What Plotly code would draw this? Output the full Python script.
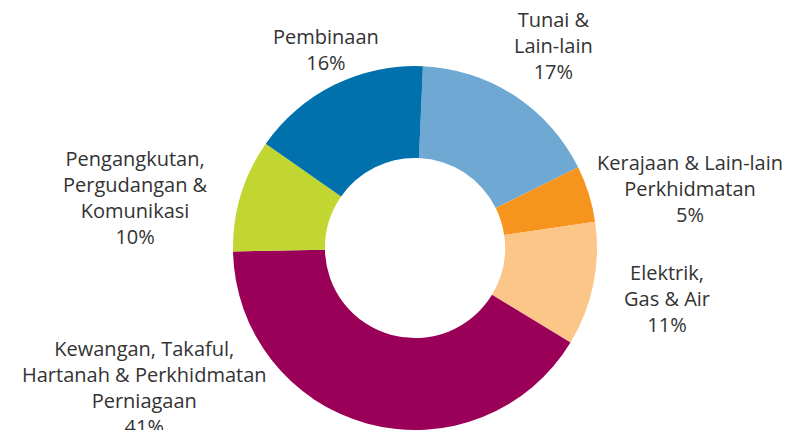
import plotly.graph_objects as go

sectors = ["Tunai & Lain-lain", "Kerajaan & Lain-lain Perkhidmatan", "Elektrik, Gas & Air",
           "Kewangan, Takaful, Hartanah & Perkhidmatan Perniagaan",
           "Pengangkutan, Pergudangan & Komunikasi", "Pembinaan"]
label_lines = ["Tunai &<br>Lain-lain", "Kerajaan & Lain-lain<br>Perkhidmatan", "Elektrik,<br>Gas & Air",
               "Kewangan, Takaful,<br>Hartanah & Perkhidmatan<br>Perniagaan",
               "Pengangkutan,<br>Pergudangan &<br>Komunikasi", "Pembinaan"]
shares = [17, 5, 11, 41, 10, 16]
colors = ["#6fa8d3", "#f7941d", "#fdc689", "#9b0058", "#c1d630", "#0071ad"]

W, H = 791, 430
OFF = 8  # page body margin
# label centres in window pixels
label_px = [553, 690, 667, 144, 135, 326]
label_py = [46, 188, 298, 387.5, 197, 49]

cx, cy, r = 415 - OFF, 248 - OFF, 182

fig = go.Figure(go.Pie(
    labels=sectors, values=shares, sort=False, direction="clockwise", rotation=2.5,
    hole=0.495, marker=dict(colors=colors, line=dict(width=0)),
    textinfo="none", hoverinfo="label+percent", showlegend=False,
    domain=dict(x=[(cx - r) / W, (cx + r) / W], y=[(H - cy - r) / H, (H - cy + r) / H]),
))

for t, v, px, py in zip(label_lines, shares, label_px, label_py):
    fig.add_annotation(text=f"{t}<br>{v}%", x=(px - OFF) / W, y=1 - (py - OFF) / H,
                       xref="paper", yref="paper",
                       xanchor="center", yanchor="middle", showarrow=False, align="center",
                       font=dict(family="Open Sans", size=20, color="#333333"))

fig.update_layout(width=W, height=H, margin=dict(l=0, r=0, t=0, b=0),
                  paper_bgcolor="white", plot_bgcolor="white")
fig.write_html("out.html")
